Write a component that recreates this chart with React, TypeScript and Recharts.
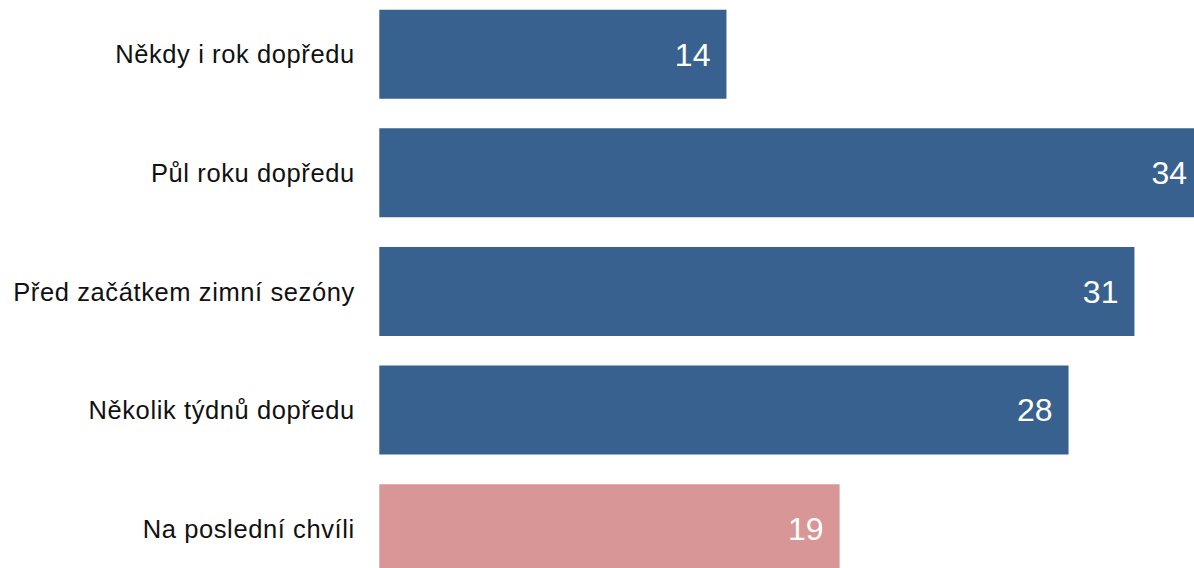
import { Bar, BarChart, Cell, LabelList, XAxis, YAxis } from "recharts";

const categories = [
  "Někdy i rok dopředu",
  "Půl roku dopředu",
  "Před začátkem zimní sezóny",
  "Několik týdnů dopředu",
  "Na poslední chvíli",
];
const values = [14.33, 34, 31.17, 28.45, 19.0];
const highlighted = "Na poslední chvíli";

const BLUE = "#386190";
const PINK = "#d99696";
const FONT = "'Liberation Sans', Arial, sans-serif";

const data = categories.map((name, i) => ({ name, value: values[i] }));

export default function App() {
  return (
    <div style={{ position: "fixed", left: 0, top: 0, width: 1194, height: 568, overflow: "hidden", background: "#fff" }}>
      <div style={{ position: "absolute", left: 0, top: -5.5 }}>
        <BarChart
          width={1210}
          height={593}
          data={data}
          layout="vertical"
          margin={{ top: 0, right: 7, left: 0, bottom: 0 }}
          barCategoryGap="12.45%"
        >
          <XAxis type="number" domain={[0, 34]} hide />
          <YAxis
            type="category"
            dataKey="name"
            width={379.3}
            axisLine={false}
            tickLine={false}
            tickSize={0}
            tickMargin={24.5}
            tick={{ fill: "#111", fontSize: 25.5, fontFamily: FONT, letterSpacing: 0.6 }}
          />
          <Bar dataKey="value" isAnimationActive={false}>
            {data.map((d) => (
              <Cell key={d.name} fill={d.name === highlighted ? PINK : BLUE} />
            ))}
            <LabelList
              dataKey="value"
              position="insideRight"
              offset={16}
              formatter={(v: number) => Math.round(v)}
              style={{ fill: "#fff", fontSize: 32, fontFamily: FONT }}
            />
          </Bar>
        </BarChart>
      </div>
    </div>
  );
}
